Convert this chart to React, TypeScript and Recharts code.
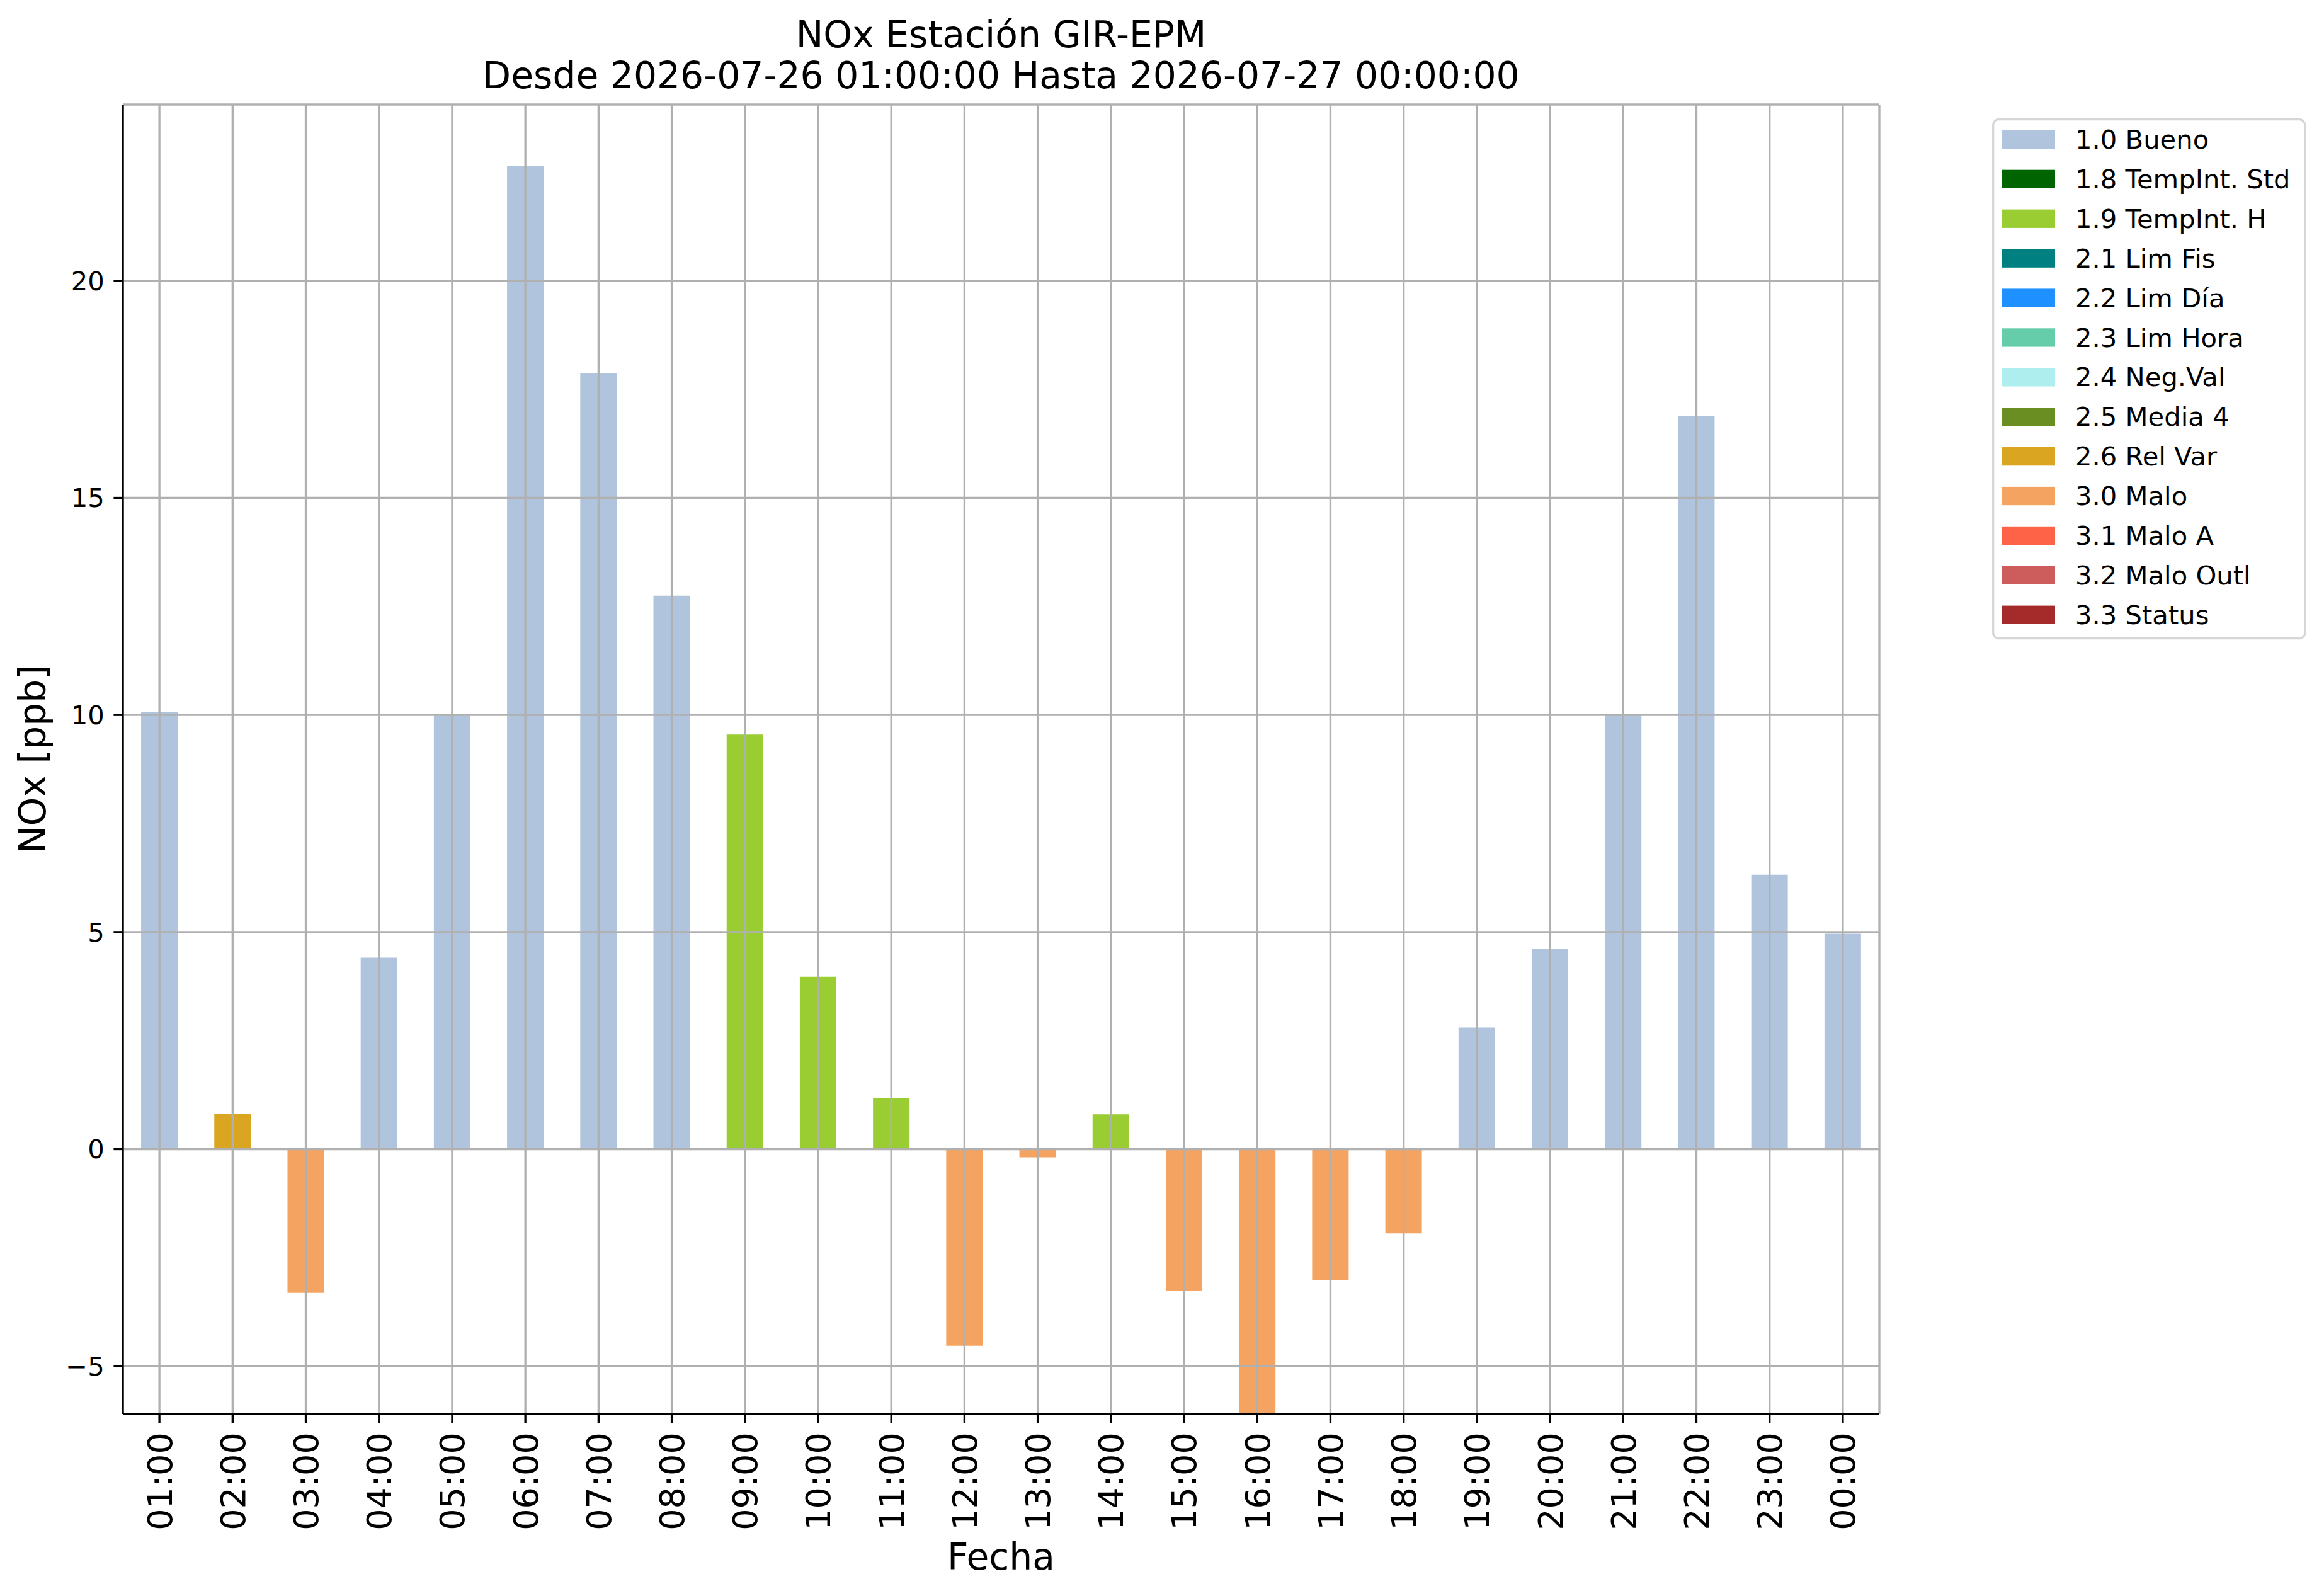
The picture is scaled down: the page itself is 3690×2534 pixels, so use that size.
import React from 'react';
import { BarChart, Bar, XAxis, YAxis, CartesianGrid, Cell, Legend } from 'recharts';

// ---------- data ----------
const hours = [
  '01:00', '02:00', '03:00', '04:00', '05:00', '06:00', '07:00', '08:00',
  '09:00', '10:00', '11:00', '12:00', '13:00', '14:00', '15:00', '16:00',
  '17:00', '18:00', '19:00', '20:00', '21:00', '22:00', '23:00', '00:00',
];
const noxValues = [
  10.06, 0.82, -3.31, 4.41, 10.0, 22.65, 17.88, 12.75,
  9.55, 3.97, 1.17, -4.53, -0.19, 0.8, -3.27, -6.1,
  -3.01, -1.94, 2.8, 4.61, 10.0, 16.89, 6.32, 4.96,
];
const hourFlags = [
  '1.0', '2.6', '3.0', '1.0', '1.0', '1.0', '1.0', '1.0',
  '1.9', '1.9', '1.9', '3.0', '3.0', '1.9', '3.0', '3.0',
  '3.0', '3.0', '1.0', '1.0', '1.0', '1.0', '1.0', '1.0',
];
const flagCodes = ['1.0', '1.8', '1.9', '2.1', '2.2', '2.3', '2.4', '2.5', '2.6', '3.0', '3.1', '3.2', '3.3'];
const flagNames = [
  '1.0 Bueno', '1.8 TempInt. Std', '1.9 TempInt. H', '2.1 Lim Fis', '2.2 Lim Día',
  '2.3 Lim Hora', '2.4 Neg.Val', '2.5 Media 4', '2.6 Rel Var', '3.0 Malo',
  '3.1 Malo A', '3.2 Malo Outl', '3.3 Status',
];
const flagColors = [
  '#b0c4de', '#006400', '#9acd32', '#008080', '#1e90ff',
  '#66cdaa', '#afeeee', '#6b8e23', '#daa520', '#f4a460',
  '#ff6347', '#cd5c5c', '#a52a2a',
];
const yTicks = [-5, 0, 5, 10, 15, 20];
const yDomain = [-6.1, 24.06];
const titleLines = ['NOx Estación GIR-EPM', 'Desde 2026-07-26 01:00:00 Hasta 2026-07-27 00:00:00'];
const xLabel = 'Fecha';
const yLabel = 'NOx [ppb]';

const chartData = hours.map((h, i) => ({ hour: h, value: noxValues[i], flag: hourFlags[i] }));
const colorOf = (flag: string) => flagColors[flagCodes.indexOf(flag)];

// ---------- style ----------
const FONT = 'DejaVu Sans';
const W = 3690;
const H = 2534;
const LW = 3.33;
const TICK = 14.6;
const PLOT_LEFT = 195;
const PLOT_RIGHT = 2984;

const XTick = (props: any) => {
  const { x, y, payload } = props;
  return (
    <g transform={`translate(${x},${y}) rotate(-90)`}>
      <text x={0} y={0} dy="0.36em" textAnchor="end" fontSize={54} fontFamily={FONT} fill="#000">
        {payload.value}
      </text>
    </g>
  );
};

const XAxisLabel = (props: any) => {
  const vb = props.viewBox || {};
  return (
    <text x={vb.x + vb.width / 2} y={vb.y + 247} textAnchor="middle" fontSize={58.3} fontFamily={FONT} fill="#000">
      {xLabel}
    </text>
  );
};

const YAxisLabel = (props: any) => {
  const vb = props.viewBox || {};
  const x = vb.x - 3;
  const y = vb.y + vb.height / 2;
  return (
    <text
      x={x}
      y={y}
      transform={`rotate(-90, ${x}, ${y})`}
      textAnchor="middle"
      fontSize={58.3}
      fontFamily={FONT}
      fill="#000"
    >
      {yLabel}
    </text>
  );
};

const LegendBox = () => {
  const pitch = 62.9;
  return (
    <svg width={500} height={830} style={{ display: 'block' }}>
      <rect x={1.7} y={1.7} width={495} height={824} rx={9} ry={9} fill="#fff" stroke="#d6d6d6" strokeWidth={LW} />
      {flagNames.map((name, i) => (
        <g key={name}>
          <rect x={16} y={18.8 + i * pitch} width={84} height={29.3} fill={flagColors[i]} />
          <text x={132} y={48 + i * pitch} fontSize={41.7} fontFamily={FONT} fill="#000">
            {name}
          </text>
        </g>
      ))}
    </svg>
  );
};

export default function App() {
  const titleX = (PLOT_LEFT + PLOT_RIGHT) / 2;
  return (
    <div style={{ position: 'absolute', left: 0, top: 0, width: W, height: H, background: '#fff' }}>
      <BarChart
        width={W}
        height={H}
        data={chartData}
        margin={{ top: 166, left: 75, right: 706, bottom: 29 }}
        barCategoryGap="25%"
      >
        <XAxis
          dataKey="hour"
          interval={0}
          height={260}
          tick={<XTick />}
          tickSize={TICK}
          tickMargin={TICK}
          tickLine={{ stroke: '#000', strokeWidth: LW }}
          axisLine={{ stroke: '#000', strokeWidth: LW }}
          label={{ content: <XAxisLabel /> }}
        />
        <XAxis
          xAxisId="top"
          dataKey="hour"
          orientation="top"
          height={0}
          tick={false}
          tickLine={false}
          axisLine={{ stroke: '#000', strokeWidth: LW }}
        />
        <YAxis
          type="number"
          width={120}
          domain={yDomain}
          ticks={yTicks}
          allowDataOverflow
          interval={0}
          tickSize={TICK}
          tickMargin={TICK}
          tickFormatter={(v: number) => (v < 0 ? '\u2212' + Math.abs(v) : String(v))}
          tick={{ fontSize: 41.7, fontFamily: FONT, fill: '#000' }}
          tickLine={{ stroke: '#000', strokeWidth: LW }}
          axisLine={{ stroke: '#000', strokeWidth: LW }}
          label={{ content: <YAxisLabel /> }}
        />
        <YAxis
          yAxisId="right"
          orientation="right"
          type="number"
          width={0}
          domain={yDomain}
          allowDataOverflow
          tick={false}
          tickLine={false}
          axisLine={{ stroke: '#000', strokeWidth: LW }}
        />
        <Bar dataKey="value" isAnimationActive={false}>
          {chartData.map((d) => (
            <Cell key={d.hour} fill={colorOf(d.flag)} />
          ))}
        </Bar>
        <CartesianGrid stroke="#b0b0b0" strokeWidth={LW} zIndex={400} />
        <Legend
          layout="vertical"
          align="center"
          verticalAlign="middle"
          content={() => <LegendBox />}
          wrapperStyle={{ left: 3163, top: 188, width: 500, height: 830, bottom: 'auto', right: 'auto' }}
        />
      </BarChart>
      <svg
        width={W}
        height={160}
        style={{ position: 'absolute', left: 0, top: 0, pointerEvents: 'none' }}
      >
        <text x={titleX} y={75} textAnchor="middle" fontSize={58.3} fontFamily={FONT} fill="#000">
          {titleLines[0]}
        </text>
        <text x={titleX} y={140} textAnchor="middle" fontSize={58.3} fontFamily={FONT} fill="#000">
          {titleLines[1]}
        </text>
      </svg>
    </div>
  );
}
